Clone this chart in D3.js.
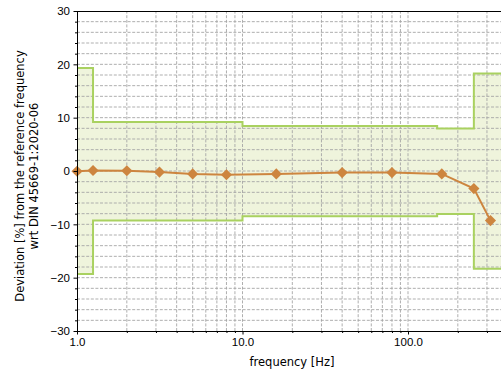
<!DOCTYPE html>
<html>
<head>
<meta charset="utf-8">
<script src="https://cdn.jsdelivr.net/npm/d3@7"></script>
<style>
  body { margin: 0; background: #fff; }
  svg { display: block; font-family: "DejaVu Sans", sans-serif; }
  .grid line { stroke: #a6a6a6; stroke-width: 0.9; stroke-dasharray: 3,1.6; }
  .axis path, .axis line { stroke: #000; }
  .axis text { fill: #000; font-size: 11.5px; }
</style>
</head>
<body>
<div id="chart"></div>
<script>
// measured frequencies and deviation from reference frequency
const freqs = [1, 1.25, 2, 3.15, 5, 8, 16, 40, 80, 160, 250, 315];
const deviation = [-0.05, 0.1, 0.05, -0.2, -0.55, -0.7, -0.55, -0.3, -0.3, -0.55, -3.3, -9.3];

// tolerance band (step after each breakpoint)
const bandFreq = [1, 1.25, 10, 150, 250, 400];
const bandUpper = [19.3, 9.2, 8.45, 7.95, 18.3, 18.3];
const bandLower = [-19.3, -9.3, -8.5, -8.05, -18.35, -18.35];

const yTicks = [-30, -20, -10, 0, 10, 20, 30];
const xTickLabels = ['1.0', '10.0', '100.0'];

const width = 501, height = 374;
const margin = { left: 77, top: 11, bottom: 43 };
const decade = 165.5;

const xScale = d3.scaleLog()
  .domain([1, 400])
  .range([margin.left, margin.left + decade * Math.log10(400)]);
const yScale = d3.scaleLinear()
  .domain([-30, 30])
  .range([height - margin.bottom, margin.top]);

const svg = d3.select('#chart').append('svg')
  .attr('width', width)
  .attr('height', height);

const plotRight = width + 10;

// log ticks: 1..9, 10..90, 100..400
const xMinor = [];
[1, 10, 100].forEach(d => {
  for (let i = 1; i <= 9; i++) if (d * i <= 400) xMinor.push(d * i);
});
const yMinor = d3.range(-30, 31, 2);

// band fill
const band = bandFreq.map((f, i) => ({ f, hi: bandUpper[i], lo: bandLower[i] }));
svg.append('path')
  .datum(band)
  .attr('fill', '#eff4dc')
  .attr('d', d3.area()
    .curve(d3.curveStepAfter)
    .x(d => xScale(d.f))
    .y0(d => yScale(d.lo))
    .y1(d => yScale(d.hi)));

// grid
const grid = svg.append('g').attr('class', 'grid');
grid.selectAll('.gx')
  .data(xMinor.filter(d => d > 1))
  .enter()
    .append('line')
      .attr('x1', d => xScale(d))
      .attr('x2', d => xScale(d))
      .attr('y1', yScale(-30))
      .attr('y2', yScale(30));
grid.selectAll('.gy')
  .data(yMinor.filter(d => d > -30 && d < 30))
  .enter()
    .append('line')
      .attr('x1', margin.left)
      .attr('x2', plotRight)
      .attr('y1', d => yScale(d))
      .attr('y2', d => yScale(d));

// band edges
['hi', 'lo'].forEach(k => {
  svg.append('path')
    .datum(band)
    .attr('fill', 'none')
    .attr('stroke', '#a9d160')
    .attr('stroke-width', 2)
    .attr('d', d3.line()
      .curve(d3.curveStepAfter)
      .x(d => xScale(d.f))
      .y(d => yScale(d[k])));
});

// measured deviation
const pts = freqs.map((f, i) => ({ f, v: deviation[i] }));
svg.append('path')
  .datum(pts)
  .attr('fill', 'none')
  .attr('stroke', '#cd853f')
  .attr('stroke-width', 2)
  .attr('d', d3.line()
    .x(d => xScale(d.f))
    .y(d => yScale(d.v)));

svg.selectAll('.marker')
  .data(pts)
  .enter()
    .append('path')
      .attr('class', 'marker')
      .attr('fill', '#cd853f')
      .attr('d', d3.symbol().type(d3.symbolSquare).size(62))
      .attr('transform', d => `translate(${xScale(d.f)},${yScale(d.v)}) rotate(45)`);

// axes
const yAxis = svg.append('g')
  .attr('class', 'axis')
  .attr('transform', `translate(${margin.left},0)`)
  .call(d3.axisLeft(yScale)
    .tickValues(yTicks)
    .tickSize(3.5)
    .tickPadding(3.5)
    .tickFormat(d => d < 0 ? '\u2212' + Math.abs(d) : d));
yAxis.select('.domain').attr('d', `M0.5,${yScale(-30)}V${yScale(30)}`);
yAxis.selectAll('.ym')
  .data(yMinor.filter(d => d % 10 !== 0))
  .enter()
    .append('line')
      .attr('x1', 0).attr('x2', -2)
      .attr('y1', d => yScale(d) + 0.5).attr('y2', d => yScale(d) + 0.5)
      .attr('stroke', '#000');

const xAxis = svg.append('g')
  .attr('class', 'axis')
  .attr('transform', `translate(0,${yScale(-30)})`)
  .call(d3.axisBottom(xScale)
    .tickValues([1, 10, 100])
    .tickSize(3.5)
    .tickPadding(3)
    .tickFormat((d, i) => xTickLabels[i]));
xAxis.select('.domain').attr('d', `M${margin.left},0.5H${plotRight}`);
xAxis.selectAll('.xm')
  .data(xMinor.filter(d => ![1, 10, 100].includes(d)))
  .enter()
    .append('line')
      .attr('x1', d => xScale(d) + 0.5).attr('x2', d => xScale(d) + 0.5)
      .attr('y1', 0).attr('y2', 2)
      .attr('stroke', '#000');

// top spine
svg.append('line')
  .attr('x1', margin.left).attr('x2', plotRight)
  .attr('y1', yScale(30) + 0.5).attr('y2', yScale(30) + 0.5)
  .attr('stroke', '#000');

// labels
svg.append('text')
  .attr('x', 292)
  .attr('y', 366)
  .attr('text-anchor', 'middle')
  .attr('font-size', 11.5)
  .text('frequency [Hz]');

const yl = svg.append('text')
  .attr('transform', 'translate(24,176) rotate(-90)')
  .attr('text-anchor', 'middle')
  .attr('font-size', 11.5);
yl.append('tspan').attr('x', 0).attr('y', 0).text('Deviation [%] from the reference frequency');
yl.append('tspan').attr('x', 0).attr('y', 14).text('wrt DIN 45669-1:2020-06');
</script>
</body>
</html>
